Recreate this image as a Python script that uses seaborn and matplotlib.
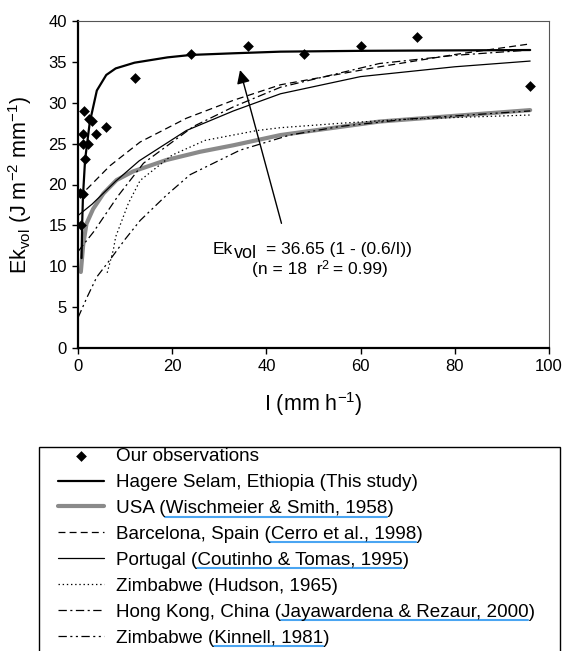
import matplotlib
matplotlib.use("Agg")
import matplotlib.pyplot as plt
from matplotlib.lines import Line2D
from matplotlib.patches import Rectangle
from matplotlib.font_manager import FontProperties
import seaborn as sns

sns.set_theme(style="white")
plt.rcParams["font.family"] = ["Liberation Sans", "DejaVu Sans"]
plt.rcParams["mathtext.fontset"] = "custom"
plt.rcParams["mathtext.rm"] = "Liberation Sans"
plt.rcParams["mathtext.it"] = "Liberation Sans:italic"
plt.rcParams["mathtext.bf"] = "Liberation Sans:bold"
plt.rcParams["lines.scale_dashes"] = False

# ---------------- data ----------------
obs_I = [0.4, 1.0, 0.6, 1.0, 2.2, 1.5, 1.1, 1.3, 2.4, 3.0, 3.8, 5.9, 12, 24, 36, 48, 60, 72, 96]
obs_Ek = [19.0, 18.8, 15.0, 25.0, 25.0, 23.1, 26.2, 29.0, 28.0, 27.8, 26.2, 27.0, 33.0, 36.0, 37.0, 36.0, 37.0, 38.0, 32.0]

hag_I = [0.75, 0.9, 1.05, 1.5, 2.5, 4, 6, 8, 12, 19, 24, 33, 43, 60, 96]
hag_Ek = [11.0, 15.5, 18.5, 23.0, 27.6, 31.5, 33.4, 34.2, 34.9, 35.55, 35.85, 36.05, 36.25, 36.35, 36.45]

usa_I = [0.6, 1.1, 1.8, 3.2, 5.4, 8.2, 11.7, 18.8, 25.9, 33, 43, 64, 96]
usa_Ek = [9.3, 12.6, 15.2, 17.0, 18.9, 20.55, 21.6, 23.0, 24.0, 24.8, 26.05, 27.7, 29.1]

bar_I = [0, 2, 6.8, 13.2, 23, 33, 43, 64, 80, 96]
bar_Ek = [18.5, 19.5, 22.3, 25.2, 28.1, 30.3, 32.2, 34.4, 35.9, 37.2]

por_I = [0, 3, 8, 13, 23, 33, 43, 60, 80, 96]
por_Ek = [16.2, 17.6, 20.4, 22.9, 26.6, 29.0, 31.1, 33.2, 34.4, 35.1]

hud_I = [6.2, 7.5, 8, 10.7, 13.2, 20, 27, 38, 43, 56, 70, 96]
hud_Ek = [9.2, 12.0, 13.6, 17.7, 20.5, 23.6, 25.4, 26.6, 26.95, 27.5, 28.0, 28.5]

hk_I = [0, 3.3, 8.5, 13.9, 24.5, 33, 43, 64, 80, 96]
hk_Ek = [11.8, 14.2, 18.6, 22.6, 27.1, 29.5, 31.9, 34.8, 35.8, 36.45]

kin_I = [0, 2, 4, 6.8, 10, 13.2, 18.8, 23.8, 34.4, 45, 55.6, 70, 96]
kin_Ek = [3.7, 6.3, 8.7, 10.8, 13.3, 15.6, 18.7, 21.2, 24.2, 26.05, 27.1, 28.0, 29.0]

x_ticks = [0, 20, 40, 60, 80, 100]
y_ticks = [0, 5, 10, 15, 20, 25, 30, 35, 40]

labels = [
    "Our observations",
    "Hagere Selam, Ethiopia (This study)",
    "USA (Wischmeier & Smith, 1958)",
    "Barcelona, Spain (Cerro et al., 1998)",
    "Portugal (Coutinho & Tomas, 1995)",
    "Zimbabwe (Hudson, 1965)",
    "Hong Kong, China (Jayawardena & Rezaur, 2000)",
    "Zimbabwe (Kinnell, 1981)",
]
underlined = {
    labels[2]: "Wischmeier & Smith, 1958",
    labels[3]: "Cerro et al., 1998",
    labels[4]: "Coutinho & Tomas, 1995",
    labels[6]: "Jayawardena & Rezaur, 2000",
    labels[7]: "Kinnell, 1981",
}

# ---------------- figure ----------------
W, H = 564, 651
fig = plt.figure(figsize=(W / 100, H / 100), dpi=100)
ax = fig.add_axes([78 / W, 1 - 348 / H, (549 - 78) / W, (348 - 21) / H])

thin = 0.9
sns.lineplot(x=usa_I, y=usa_Ek, ax=ax, color="#8a8a8a", lw=3.0, sort=False,
             estimator=None, label=labels[2], zorder=2)
sns.lineplot(x=bar_I, y=bar_Ek, ax=ax, color="black", lw=thin, linestyle=(0, (5, 3)),
             sort=False, estimator=None, label=labels[3], zorder=3)
sns.lineplot(x=por_I, y=por_Ek, ax=ax, color="black", lw=thin, linestyle="-",
             sort=False, estimator=None, label=labels[4], zorder=3)
sns.lineplot(x=hud_I, y=hud_Ek, ax=ax, color="black", lw=thin, linestyle=(0, (1, 2)),
             sort=False, estimator=None, label=labels[5], zorder=3)
sns.lineplot(x=hk_I, y=hk_Ek, ax=ax, color="black", lw=thin, linestyle=(0, (6, 2.5, 1.5, 2.5)),
             sort=False, estimator=None, label=labels[6], zorder=3)
sns.lineplot(x=kin_I, y=kin_Ek, ax=ax, color="black", lw=thin,
             linestyle=(0, (6, 2.5, 1.5, 2.5, 1.5, 2.5)),
             sort=False, estimator=None, label=labels[7], zorder=3)
sns.lineplot(x=hag_I, y=hag_Ek, ax=ax, color="black", lw=1.6, sort=False,
             estimator=None, label=labels[1], zorder=4)
sns.scatterplot(x=obs_I, y=obs_Ek, ax=ax, marker="D", s=30, color="black",
                edgecolor="black", linewidth=0, label=labels[0], zorder=5)

ax.set_xlim(0, 100)
ax.set_ylim(0, 40)
ax.set_xticks(x_ticks)
ax.set_yticks(y_ticks)
ax.tick_params(axis="both", which="both", left=True, bottom=True, direction="out",
               length=4, width=1, color="black", labelsize=12, pad=4,
               labelcolor="black")
for side in ["left", "bottom"]:
    ax.spines[side].set_linewidth(1.6)
    ax.spines[side].set_color("black")
for side in ["top", "right"]:
    ax.spines[side].set_linewidth(0.8)
    ax.spines[side].set_color("#555555")
ax.grid(False)

ax.set_xlabel(r"I (mm h$^{-1}$)", fontsize=15.5, color="black")
ax.set_ylabel(r"Ek$_{\mathrm{vol}}$ (J m$^{-2}$ mm$^{-1}$)", fontsize=15.5, color="black")
ax.xaxis.set_label_coords(0.5, -0.128)
ax.yaxis.set_label_coords(-0.093, 0.5)

# arrow of the equation annotation
ax.annotate("", xy=(34.4, 34.0), xytext=(43.2, 15.25),
            arrowprops=dict(arrowstyle="-|>", color="black", lw=1.0,
                            mutation_scale=20, shrinkA=0, shrinkB=0))

# legend below plot (cut by the figure's bottom edge)
handles, labs = ax.get_legend_handles_labels()
hmap = dict(zip(labs, handles))
if ax.get_legend() is not None:
    ax.get_legend().remove()
leg = fig.legend([hmap[l] for l in labels], labels, loc="upper left",
                 bbox_to_anchor=(58 / W, 1 - 448 / H), bbox_transform=fig.transFigure,
                 frameon=False, fontsize=13.6, handlelength=2.45, handletextpad=0.6,
                 labelspacing=0.46, borderpad=0, borderaxespad=0)
for t in leg.get_texts():
    t.set_color("black")
fig.add_artist(Rectangle((39 / W, -0.05), (560 - 39) / W, (651 - 447) / H + 0.05,
                         transform=fig.transFigure, fill=False, ec="black", lw=1.0))

fig.canvas.draw()
r = fig.canvas.get_renderer()


def text_width(s, size):
    fp = FontProperties(family=["Liberation Sans"], size=size)
    w1 = r.get_text_width_height_descent(s + "|", fp, ismath=False)[0]
    w2 = r.get_text_width_height_descent("|", fp, ismath=False)[0]
    return w1 - w2


def put(x_px, base_px, s, size):
    fig.text(x_px / W, 1 - base_px / H, s, fontsize=size, ha="left", va="baseline",
             color="black")
    return x_px + text_width(s, size)


# equation text (pixel layout, baseline positions from the reference)
put(213, 254, "Ek", 12.5)
put(234, 258, "vol", 13)
put(266, 254, "= 36.65 (1 - (0.6/I))", 12.5)
xx = put(252, 274, "(n = 18  r", 12.5)
xx = put(xx - 1.0, 269, "2", 9)
put(xx, 274, " = 0.99)", 12.5)

# hyperlink-style underlines beneath the citations
for t in leg.get_texts():
    s = t.get_text()
    if s in underlined:
        part = underlined[s]
        prefix = s[: s.index(part)]
        fp = t.get_fontproperties()
        w0, _, _ = r.get_text_width_height_descent(prefix, fp, ismath=False)
        w1, _, _ = r.get_text_width_height_descent(part, fp, ismath=False)
        _, _, d = r.get_text_width_height_descent(s, fp, ismath=False)
        bb = t.get_window_extent(r)
        yb = bb.y0 + d - 3.5
        fig.add_artist(Line2D([(bb.x0 + w0) / W, (bb.x0 + w0 + w1) / W], [yb / H, yb / H],
                              transform=fig.transFigure, color="#4aa5f2", lw=1.5))

fig.savefig("out.png", dpi=100)
